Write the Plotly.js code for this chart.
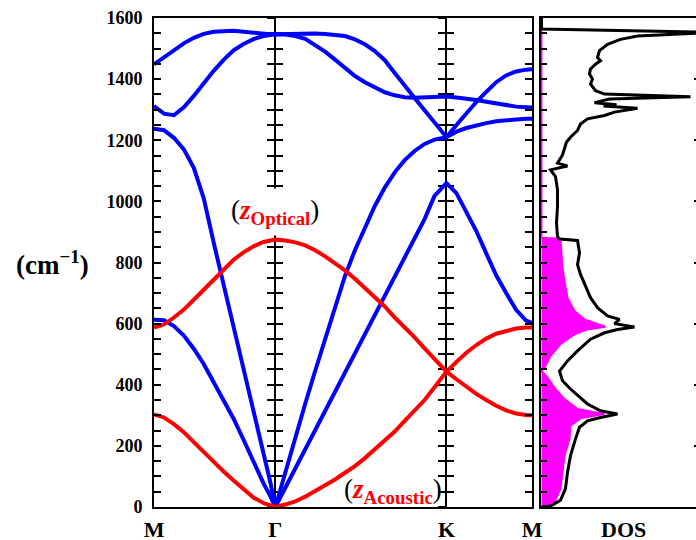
<!DOCTYPE html>
<html>
<head>
<meta charset="utf-8">
<script src="https://cdn.plot.ly/plotly-3.0.1.min.js"></script>
<style>
  html, body { margin: 0; padding: 0; overflow: hidden; background: #fff; }
  #chart { width: 699px; height: 540px; }
</style>
</head>
<body>
<div id="chart"></div>
<script>
// High-symmetry path M – Γ – K – M (path coordinate, arbitrary length units)
const kLabels = ['M', 'Γ', 'K', 'M'];
const kTicks = [0, 1.22, 2.94, 3.80];
const kPath = [
  0, 0.10, 0.20, 0.30, 0.40, 0.50, 0.60, 0.70, 0.80, 0.90, 1.00, 1.10, 1.17, 1.22,
  1.32, 1.42, 1.52, 1.62, 1.72, 1.82, 1.92, 2.02, 2.12, 2.22, 2.32, 2.42, 2.52, 2.62, 2.72, 2.82, 2.94,
  3.04, 3.14, 3.24, 3.34, 3.44, 3.54, 3.64, 3.74, 3.80
];

// Phonon branches, frequency in cm^-1 along kPath
// out-of-plane (z) modes
const freqZA = [303, 293, 271, 245, 212, 179, 147, 116, 87, 57, 31, 13, 4, 0,
  8, 18, 34, 52, 70, 90, 112, 134, 160, 188, 217, 247, 282, 315, 350, 392, 443,
  418, 393, 370, 350, 331, 316, 306, 301, 300];
const freqZO = [587, 597, 620, 646, 678, 711, 743, 776, 809, 833, 853, 867, 873, 875,
  872, 866, 856, 840, 820, 798, 774, 747, 718, 689, 656, 620, 588, 555, 519, 483, 443,
  475, 505, 530, 551, 567, 577, 584, 587, 587];
// in-plane modes
const freqTA = [613, 611, 592, 561, 518, 468, 408, 349, 289, 220, 147, 78, 35, 0,
  63, 126, 189, 252, 315, 378, 441, 504, 567, 630, 690, 752, 815, 880, 942, 1018, 1060,
  1027, 968, 903, 830, 758, 700, 645, 610, 602];
const freqLA = [1238, 1233, 1208, 1170, 1110, 1010, 865, 728, 592, 455, 318, 180, 80, 0,
  115, 228, 338, 445, 548, 650, 756, 840, 915, 985, 1045, 1095, 1135, 1165, 1188, 1202, 1210,
  1228, 1240, 1249, 1256, 1262, 1266, 1268, 1270, 1270];
const freqOpt1 = [1448, 1471, 1495, 1517, 1535, 1548, 1555, 1558, 1558, 1555, 1551, 1548, 1547, 1547,
  1548, 1549, 1549, 1549, 1548, 1546, 1541, 1530, 1514, 1492, 1462, 1420, 1377, 1338, 1298, 1258, 1210,
  1250, 1290, 1325, 1358, 1390, 1412, 1425, 1431, 1432];
const freqOpt2 = [1312, 1287, 1282, 1308, 1345, 1387, 1427, 1463, 1494, 1515, 1531, 1541, 1545, 1547,
  1546, 1541, 1532, 1512, 1490, 1464, 1435, 1410, 1390, 1372, 1357, 1347, 1341, 1339, 1340, 1342, 1343,
  1340, 1337, 1332, 1326, 1320, 1315, 1310, 1308, 1307];

// Density of states (arbitrary units) versus frequency
const dosFreq = [0, 3, 22, 60, 114, 168, 223, 261, 282, 293, 304, 315, 337, 364, 386, 413, 445, 478, 511, 549,
  570, 581, 589, 600, 614, 625, 652, 685, 728, 761, 793, 831, 872, 877, 885, 929, 983, 1038, 1081, 1103,
  1116, 1125, 1152, 1194, 1210, 1232, 1253, 1270, 1281, 1292, 1305, 1312, 1316, 1323, 1335, 1342, 1351, 1362,
  1384, 1400, 1417, 1433, 1449, 1460, 1471, 1493, 1514, 1530, 1541, 1546, 1553, 1564, 1600];
const dosTotal = [0, 9, 19, 24, 26, 29, 34, 38, 46, 59, 76, 59, 46, 36, 29, 21, 18, 26, 36, 49,
  63, 76, 93, 73, 78, 66, 56, 49, 43, 39, 36, 38, 36, 18, 16, 15, 16, 16, 14, 9,
  26, 16, 21, 25, 29, 36, 39, 46, 63, 73, 96, 62, 75, 53, 68, 149, 63, 54,
  49, 51, 48, 49, 54, 59, 56, 58, 66, 79, 96, 130, 175, 0, 0];
// projected DOS of the z (out-of-plane) modes
const zFreq = [0, 3, 16, 60, 114, 168, 223, 266, 290, 304, 321, 353, 386, 424, 445, 456, 494, 533, 565, 581,
  590, 614, 641, 685, 739, 782, 878, 881, 1600];
const zDos = [0, 3, 13, 19, 21, 23, 28, 29, 39, 63, 36, 23, 14, 6, 0, 3, 9, 19, 33, 46,
  64, 43, 33, 26, 23, 21, 19, 0, 0];

const RED = '#ff0000', BLUE = '#0000ff', MAGENTA = '#ff00ff', BLACK = '#000000';
const SERIF = 'Liberation Serif, Times New Roman, serif';
const fMax = 1600;

const branches = [
  { y: freqTA, color: BLUE }, { y: freqLA, color: BLUE },
  { y: freqOpt1, color: BLUE }, { y: freqOpt2, color: BLUE },
  { y: freqZA, color: RED }, { y: freqZO, color: RED }
];

const traces = branches.map(b => ({
  type: 'scatter', mode: 'lines', x: kPath, y: b.y,
  line: { color: b.color, width: 4 }, xaxis: 'x', yaxis: 'y', hoverinfo: 'skip'
}));

traces.push({
  type: 'scatter', mode: 'lines', x: zDos, y: zFreq, fill: 'tozerox',
  fillcolor: MAGENTA, line: { color: MAGENTA, width: 2 }, xaxis: 'x2', yaxis: 'y2', hoverinfo: 'skip'
});
traces.push({
  type: 'scatter', mode: 'lines', x: dosTotal, y: dosFreq,
  line: { color: BLACK, width: 3 }, xaxis: 'x2', yaxis: 'y2', hoverinfo: 'skip'
});

// placeholder traces so every helper axis gets drawn
['y3', 'y4', 'y5', 'y6', 'y7'].forEach(ya => traces.push({
  type: 'scatter', mode: 'lines', x: [], y: [], xaxis: 'x', yaxis: ya, hoverinfo: 'skip'
}));
traces.push({ type: 'scatter', mode: 'lines', x: [], y: [], xaxis: 'x2', yaxis: 'y8', hoverinfo: 'skip' });

const leftDom = [0, 0.6936];
const dosDom = [0.7101, 1];
const kSpan = kTicks[3] - kTicks[0];
const posG = leftDom[0] + (kTicks[1] - kTicks[0]) / kSpan * (leftDom[1] - leftDom[0]);
const posK = leftDom[0] + (kTicks[2] - kTicks[0]) / kSpan * (leftDom[1] - leftDom[0]);

const plain = { showgrid: false, zeroline: false, range: [0, fMax] };

// vertical line with crossing ticks at a high-symmetry point
function crossAxis(pos, dir, withLine) {
  return Object.assign({}, plain, {
    overlaying: 'y', anchor: 'free', position: pos, side: 'left',
    showline: withLine, linewidth: 2, linecolor: BLACK,
    ticks: dir, ticklen: 7, tickwidth: 2, tickcolor: BLACK,
    tick0: 0, dtick: 50, showticklabels: false, layer: 'below traces'
  });
}

const layout = {
  width: 699, height: 540,
  margin: { l: 154, r: 0, t: 18, b: 33 },
  paper_bgcolor: '#fff', plot_bgcolor: '#fff',
  showlegend: false,
  xaxis: {
    domain: leftDom, anchor: 'y', range: [kTicks[0], kTicks[3]],
    showline: true, linewidth: 2, linecolor: BLACK, mirror: true,
    ticks: '', tickvals: kTicks, ticktext: kLabels,
    tickfont: { family: SERIF, size: 22, color: BLACK, weight: 'bold' },
    ticklabelstandoff: 2,
    showgrid: false, zeroline: false
  },
  yaxis: Object.assign({}, plain, {
    domain: [0, 1], anchor: 'x',
    showline: true, linewidth: 2, linecolor: BLACK, mirror: true,
    ticks: 'inside', ticklen: 7, tickwidth: 2, tickcolor: BLACK,
    tick0: 0, dtick: 200,
    minor: { dtick: 50, ticks: 'inside', ticklen: 7, tickwidth: 2, tickcolor: BLACK, showgrid: false },
    tickfont: { family: SERIF, size: 18, color: BLACK, weight: 'bold' },
    ticklabelstandoff: 6
  }),
  yaxis3: Object.assign({}, plain, {
    overlaying: 'y', anchor: 'x', side: 'right',
    ticks: 'inside', ticklen: 7, tickwidth: 2, tickcolor: BLACK,
    tick0: 0, dtick: 50, showticklabels: false, showline: false
  }),
  yaxis4: crossAxis(posG, 'outside', true),
  yaxis5: crossAxis(posG, 'inside', false),
  yaxis6: crossAxis(posK, 'outside', true),
  yaxis7: crossAxis(posK, 'inside', false),
  xaxis2: {
    domain: dosDom, anchor: 'y2', range: [-0.5, 157.5],
    showline: true, linewidth: 2, linecolor: BLACK, mirror: true,
    ticks: '', showticklabels: false, showgrid: false, zeroline: false
  },
  yaxis2: Object.assign({}, plain, {
    domain: [0, 1], anchor: 'x2',
    showline: true, linewidth: 2, linecolor: BLACK,
    ticks: 'inside', ticklen: 6, tickwidth: 2, tickcolor: BLACK,
    tick0: 0, dtick: 50, showticklabels: false
  }),
  yaxis8: Object.assign({}, plain, {
    overlaying: 'y2', anchor: 'x2', side: 'right',
    ticks: 'inside', ticklen: 5, tickwidth: 2, tickcolor: BLACK,
    tick0: 0, dtick: 200, showticklabels: false, showline: false
  }),
  annotations: [
    {
      xref: 'paper', yref: 'paper', x: -0.187, y: 0.5, xanchor: 'center', yanchor: 'middle',
      text: '<b>(cm<sup>−1</sup>)</b>', showarrow: false,
      font: { family: SERIF, size: 27, color: BLACK }
    },
    {
      xref: 'x2 domain', yref: 'paper', x: 0.52, y: -0.047, xanchor: 'center', yanchor: 'middle',
      text: '<b>DOS</b>', showarrow: false,
      font: { family: SERIF, size: 22, color: BLACK }
    },
    {
      xref: 'x', yref: 'y', x: kTicks[1], y: 965, xanchor: 'center', yanchor: 'middle',
      text: '(<span style="color:#ff0000"><b><i>z</i></b><sub><b>Optical</b></sub></span>)',
      showarrow: false, bgcolor: '#ffffff', height: 46, borderpad: 0,
      font: { family: SERIF, size: 27, color: BLACK }
    },
    {
      xref: 'x', yref: 'y', x: kTicks[2], xshift: -2, y: 52, xanchor: 'right', yanchor: 'middle',
      text: '(<span style="color:#ff0000"><b><i>z</i></b><sub><b>Acoustic</b></sub></span>)',
      showarrow: false,
      font: { family: SERIF, size: 27, color: BLACK }
    }
  ]
};

Plotly.newPlot('chart', traces, layout, { staticPlot: true, displayModeBar: false });
</script>
</body>
</html>
